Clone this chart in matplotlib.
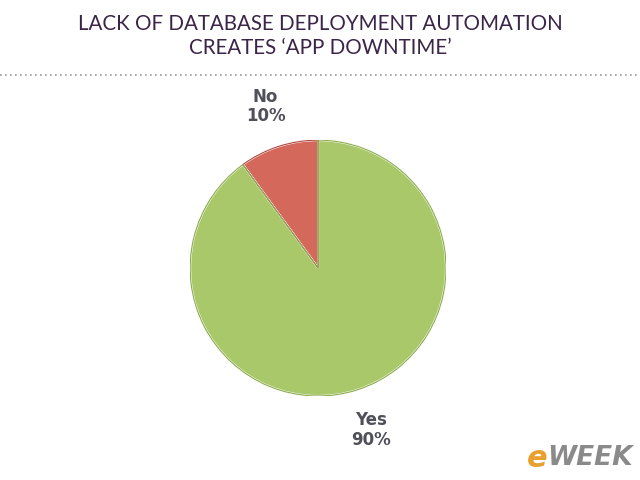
import matplotlib.pyplot as plt

labels = ['No', 'Yes']
shares = [10, 90]
colors = ['#d4685a', '#a9c869']

fig = plt.figure(figsize=(6.4, 4.8), dpi=100)

# title and dotted rule
fig.text(0.5, 0.950, 'LACK OF DATABASE DEPLOYMENT AUTOMATION', ha='center', va='center',
         fontsize=14.8, color='#3a2448', family='Lato')
fig.text(0.5, 0.900, 'CREATES \u2018APP DOWNTIME\u2019', ha='center', va='center',
         fontsize=14.8, color='#3a2448', family='Lato')
fig.add_artist(plt.Line2D([0, 1], [0.843, 0.843], transform=fig.transFigure,
                          color='#9a9a9a', lw=1.2, ls=(0, (1, 2))))

ax = fig.add_axes([0.297, 0.175, 0.4, 0.533])
wedges, texts = ax.pie(shares, colors=colors, startangle=90, counterclock=True,
                       labels=[f'{l}\n{s}%' for l, s in zip(labels, shares)],
                       labeldistance=1.33,
                       wedgeprops=dict(edgecolor='#ffffff', linewidth=1.5),
                       textprops=dict(fontsize=12, fontweight='bold', color='#50505a',
                                      ha='center', va='center', linespacing=1.1))
for w, ec in zip(wedges, ['#b0483e', '#8aab4c']):
    inner = plt.matplotlib.patches.Wedge(w.center, w.r, w.theta1, w.theta2,
                                         fill=False, edgecolor=ec, lw=0.8)
    ax.add_patch(inner)
ax.set_xlim(-1, 1)
ax.set_ylim(-1, 1)
ax.set_aspect('equal')
ax.axis('off')

# eWEEK mark
fig.text(0.855, 0.045, 'e', fontsize=22, fontweight='bold', style='italic',
         color='#e8a030', ha='right', va='center')
fig.text(0.855, 0.045, 'WEEK', fontsize=19, fontweight='bold', style='italic',
         color='#8a8a8a', ha='left', va='center')

fig.savefig('out.png', dpi=100)
